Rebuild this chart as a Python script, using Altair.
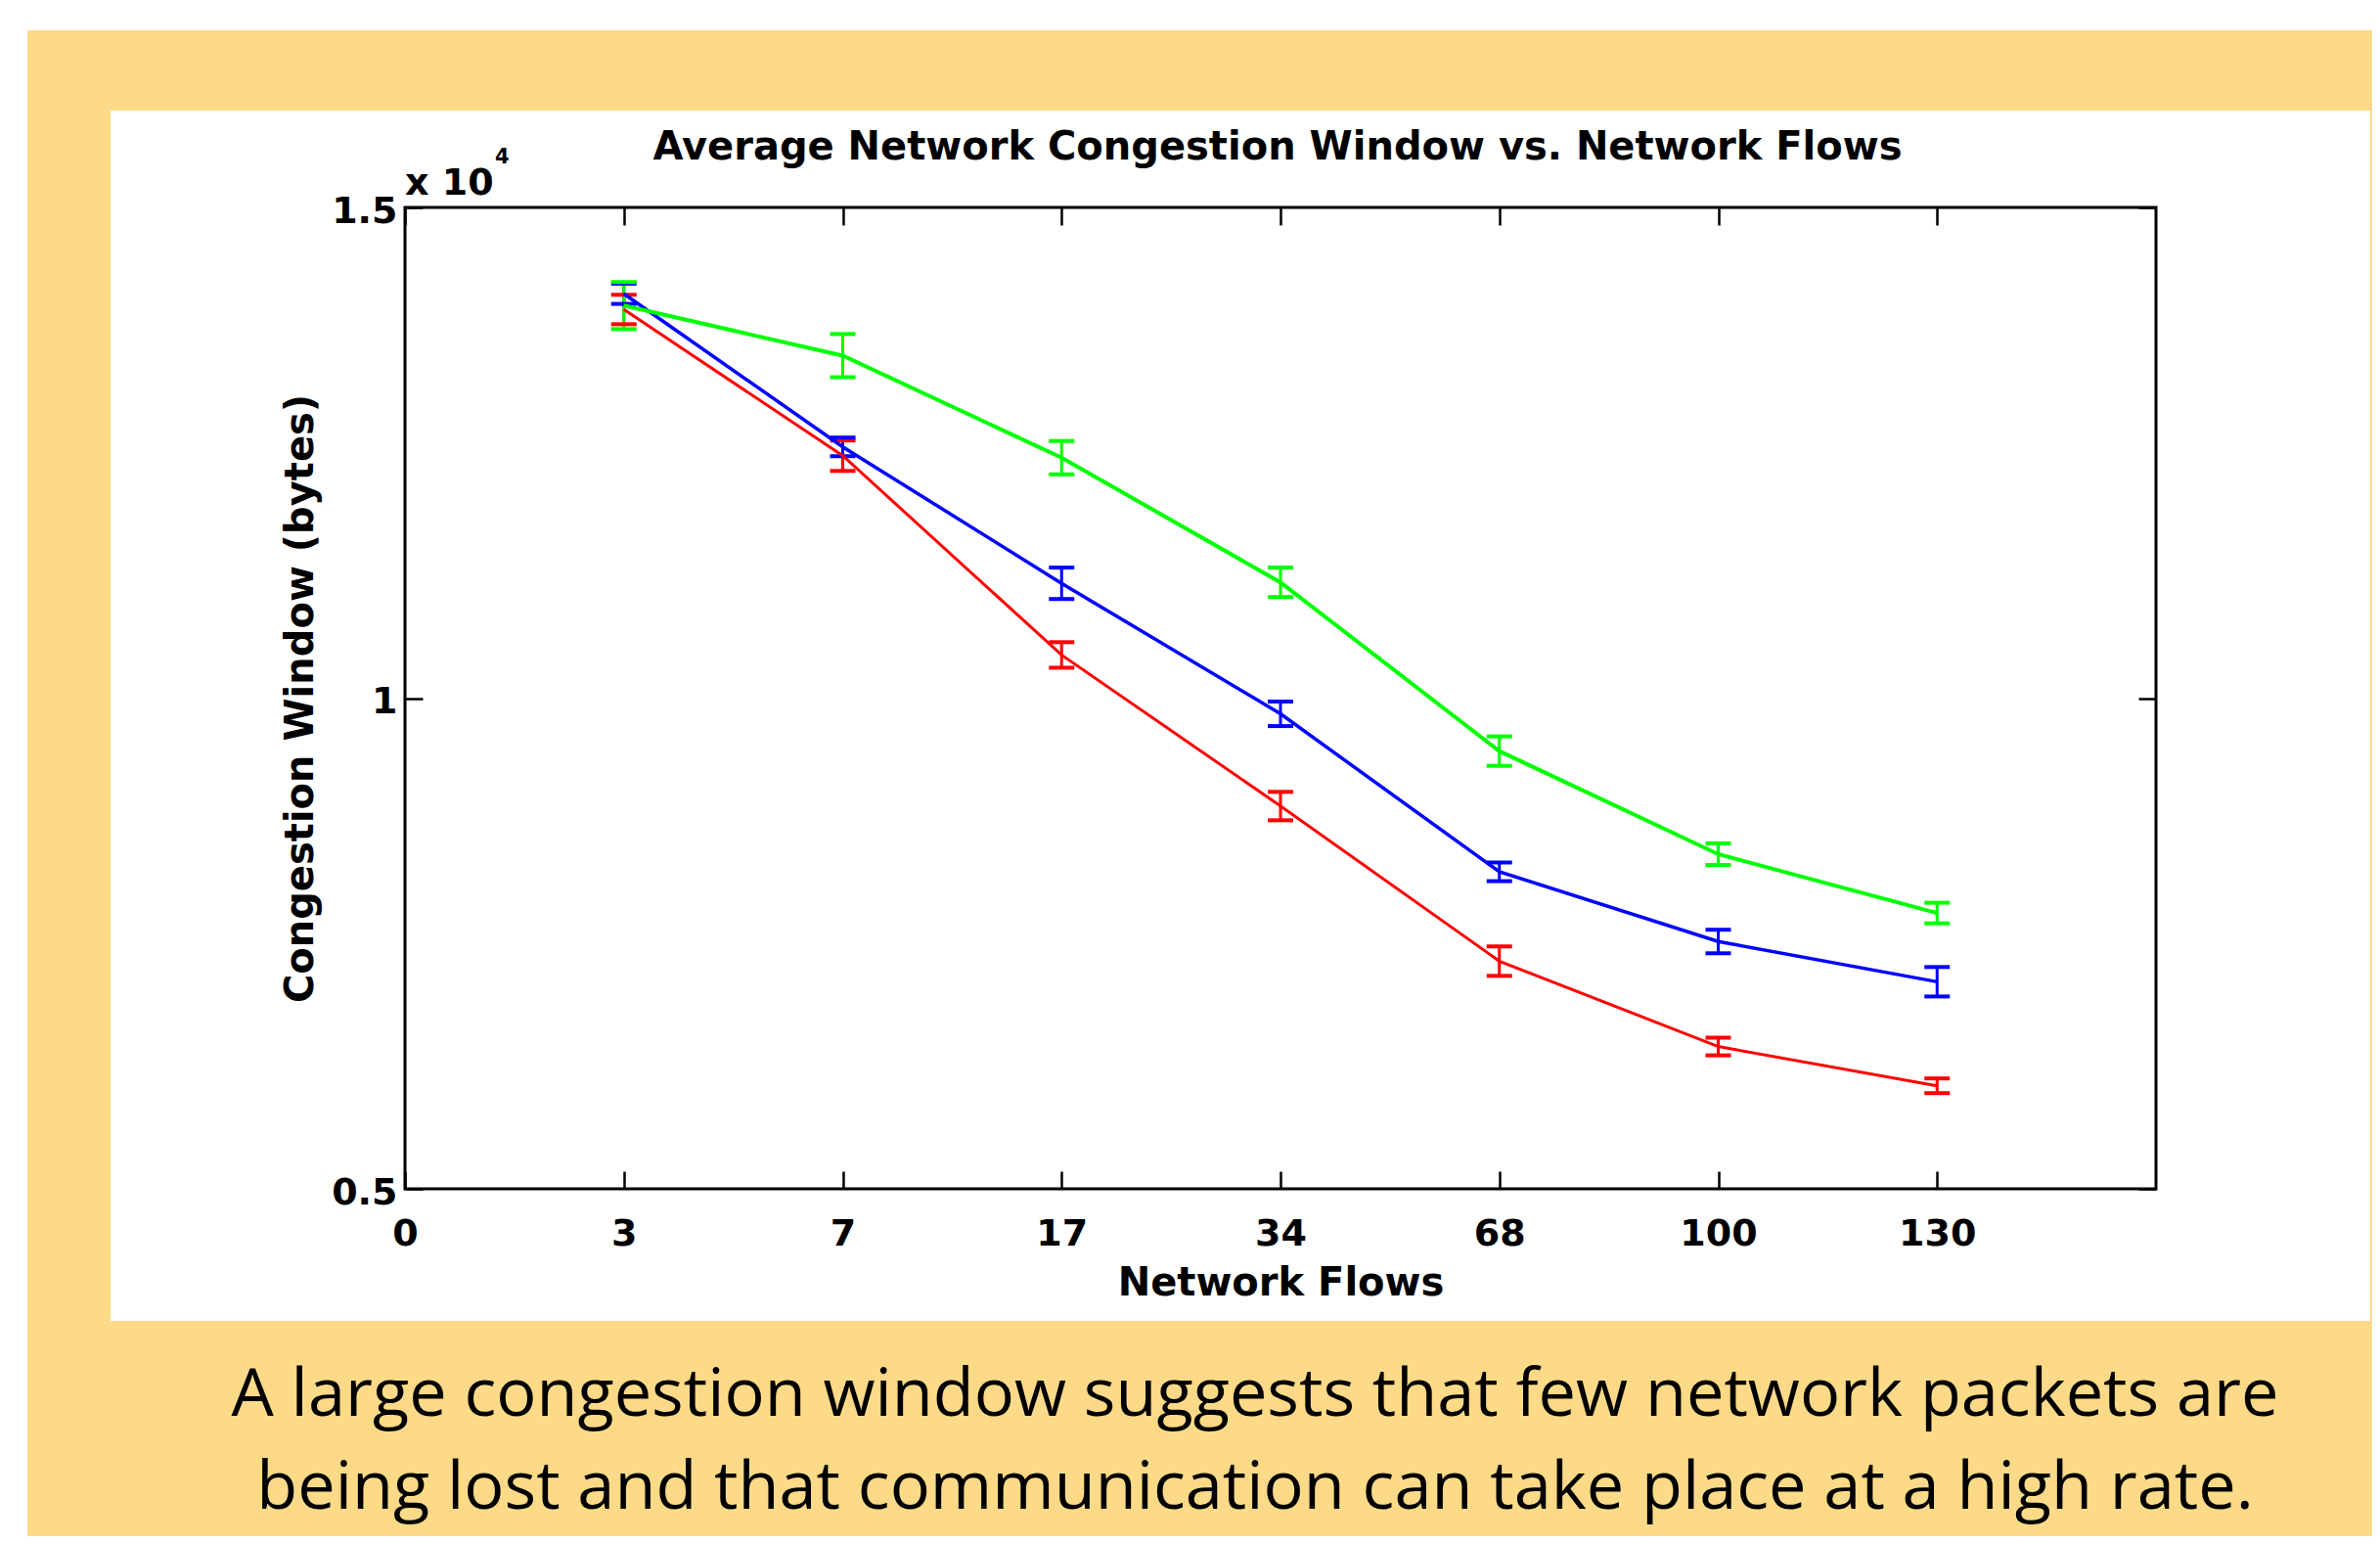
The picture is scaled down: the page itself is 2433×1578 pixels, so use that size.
import altair as alt
import pandas as pd

# ---------------- data ----------------
x_labels = ["0", "3", "7", "17", "34", "68", "100", "130"]
flows = ["3", "7", "17", "34", "68", "100", "130"]
series = ["TCP-orig", "TCP-mod", "TCP-mod-fixed"]
colors = ["#FF0000", "#0000FF", "#00FF00"]
line_widths = [3, 4, 3]

tcp_orig = [13960, 12470, 10440, 8900, 7320, 6450, 6050]
tcp_orig_err = [150, 155, 130, 145, 150, 90, 75]
tcp_mod = [14120, 12560, 11170, 9840, 8230, 7520, 7110]
tcp_mod_err = [103, 95, 160, 125, 95, 120, 150]
tcp_fixed = [14000, 13490, 12450, 11180, 9460, 8410, 7810]
tcp_fixed_err = [240, 220, 170, 150, 150, 110, 105]

y_ticks = [5000, 10000, 15000]

title_text = "Average Network Congestion Window vs. Network Flows"
caption_lines = [
    "A large congestion window suggests that few network packets are",
    "being lost and that communication can take place at a high rate.",
]

rows = []
for name, vals, errs in zip(series, [tcp_orig, tcp_mod, tcp_fixed],
                            [tcp_orig_err, tcp_mod_err, tcp_fixed_err]):
    for f, v, e in zip(flows, vals, errs):
        rows.append({"series": name, "pos": x_labels.index(f), "value": v,
                     "lo": v - e, "hi": v + e})
df = pd.DataFrame(rows)

# ---------------- styling ----------------
FONT = "DejaVu Sans"
LEG_FONT = "Liberation Sans"
W, H = 1790, 1003
YELLOW = "#FDDA88"

x_scale = alt.Scale(domain=[0, len(x_labels)], nice=False, zero=False)
y_scale = alt.Scale(domain=[5000, 15000], nice=False, zero=False)
color_scale = alt.Scale(domain=series, range=colors)

label_expr_x = "[" + ",".join("'%s'" % l for l in x_labels) + "][datum.value]"

x_main_axis = alt.Axis(
    orient="bottom", values=list(range(len(x_labels))), labelExpr=label_expr_x,
    ticks=False, domain=False, grid=False, labelFlush=False, labelOverlap=False,
    labelFont=FONT, labelFontSize=38, labelFontWeight="bold", labelColor="black",
    labelPadding=27, title="Network Flows", titleFont=FONT, titleFontSize=40,
    titleFontWeight="bold", titleColor="black", titlePadding=11, zindex=1)

y_main_axis = alt.Axis(
    orient="left", values=y_ticks, labelExpr="datum.value / 10000",
    ticks=False, domain=False, grid=False, labelOverlap=False,
    labelFont=FONT, labelFontSize=38, labelFontWeight="bold", labelColor="black",
    labelPadding=8, labelOffset=4, title="Congestion Window (bytes)",
    titleFont=FONT, titleFontSize=40, titleFontWeight="bold", titleColor="black",
    titlePadding=11, zindex=1)


def tick_axis(orient, values):
    return alt.Axis(orient=orient, values=values, labels=False, domain=False,
                    grid=False, ticks=True, tickSize=18, tickWidth=2.5,
                    tickColor="black", offset=-18, zindex=1)


one = pd.DataFrame({"d": [0]})

# ---------------- decorative background ----------------
top_strip = alt.Chart(one).mark_rect(color="white").encode(
    x=alt.value(-406), x2=alt.value(2011), y=alt.value(-204), y2=alt.value(-181))
left_strip = alt.Chart(one).mark_rect(color="white").encode(
    x=alt.value(-406), x2=alt.value(-386), y=alt.value(-204), y2=alt.value(1360))
panel = alt.Chart(one).mark_rect(color="white").encode(
    x=alt.value(-301), x2=alt.value(2009), y=alt.value(-99), y2=alt.value(1138))

title = alt.Chart(one).mark_text(
    text=title_text, font=FONT, fontSize=40, fontWeight="bold", color="black",
    align="center", baseline="alphabetic").encode(
    x=alt.value(892), y=alt.value(-49))

caption = alt.Chart(one).mark_text(
    text=caption_lines, font="Open Sans", fontSize=68.5, color="black", align="center",
    baseline="alphabetic", lineHeight=95).encode(
    x=alt.value(869), y=alt.value(1235))

exp_base = alt.Chart(one).mark_text(
    text="x 10", font=FONT, fontSize=38, fontWeight="bold", color="black",
    align="left", baseline="alphabetic").encode(x=alt.value(0), y=alt.value(-13))
exp_sup = alt.Chart(one).mark_text(
    text="4", font=FONT, fontSize=21, fontWeight="bold", color="black",
    align="left", baseline="alphabetic").encode(x=alt.value(92), y=alt.value(-45))

frame = alt.Chart(one).mark_rect(filled=False, stroke="black", strokeWidth=3).encode(
    x=alt.value(0), x2=alt.value(W), y=alt.value(0), y2=alt.value(H))

# ---------------- inward tick axes ----------------
ticks_tr = alt.Chart(df).mark_point(opacity=0).encode(
    x=alt.X("pos:Q", scale=x_scale, axis=tick_axis("top", list(range(len(x_labels)))), title=None),
    y=alt.Y("value:Q", scale=y_scale, axis=tick_axis("right", y_ticks), title=None))
ticks_bl = alt.Chart(df).mark_point(opacity=0).encode(
    x=alt.X("pos:Q", scale=x_scale, axis=tick_axis("bottom", list(range(len(x_labels)))), title=None),
    y=alt.Y("value:Q", scale=y_scale, axis=tick_axis("left", y_ticks), title=None))

# ---------------- data marks ----------------
bars = alt.Chart(df).mark_rule(strokeWidth=3).encode(
    x=alt.X("pos:Q", scale=x_scale, axis=None),
    y=alt.Y("lo:Q", scale=y_scale, axis=None),
    y2="hi:Q",
    color=alt.Color("series:N", scale=color_scale, legend=None))
caps_lo = alt.Chart(df).mark_tick(orient="horizontal", size=26, thickness=4, opacity=1).encode(
    x=alt.X("pos:Q", scale=x_scale, axis=None),
    y=alt.Y("lo:Q", scale=y_scale, axis=None),
    color=alt.Color("series:N", scale=color_scale, legend=None))
caps_hi = alt.Chart(df).mark_tick(orient="horizontal", size=26, thickness=4, opacity=1).encode(
    x=alt.X("pos:Q", scale=x_scale, axis=None),
    y=alt.Y("hi:Q", scale=y_scale, axis=None),
    color=alt.Color("series:N", scale=color_scale, legend=None))

lines = alt.Chart(df).mark_line().encode(
    x=alt.X("pos:Q", scale=x_scale, axis=x_main_axis),
    y=alt.Y("value:Q", scale=y_scale, axis=y_main_axis),
    color=alt.Color(
        "series:N", scale=color_scale, sort=series,
        legend=alt.Legend(
            orient="none", legendX=1358, legendY=10, title=None,
            strokeColor="black", fillColor="white", padding=8,
            labelFont=LEG_FONT, labelFontSize=46, labelFontWeight="bold",
            labelColor="black", labelOffset=8,
            symbolType="M-1,0H1M-0.08,-0.1V0.1M0.08,-0.1V0.1",
            symbolSize=3969, symbolStrokeWidth=3, rowPadding=7)),
    strokeWidth=alt.StrokeWidth("series:N", scale=alt.Scale(domain=series, range=line_widths),
                                legend=None),
    detail="series:N")

chart = alt.layer(
    top_strip, left_strip, panel, title, caption, exp_base, exp_sup,
    ticks_tr, ticks_bl, frame, bars, caps_lo, caps_hi, lines
).resolve_axis(x="independent", y="independent").properties(
    width=W, height=H,
    autosize=alt.AutoSizeParams(type="none"),
    padding={"left": 406, "top": 204, "right": 221, "bottom": 355},
    background=YELLOW,
).configure_view(strokeWidth=0)

chart.save("out.html", embed_options={"renderer": "svg", "actions": False})
